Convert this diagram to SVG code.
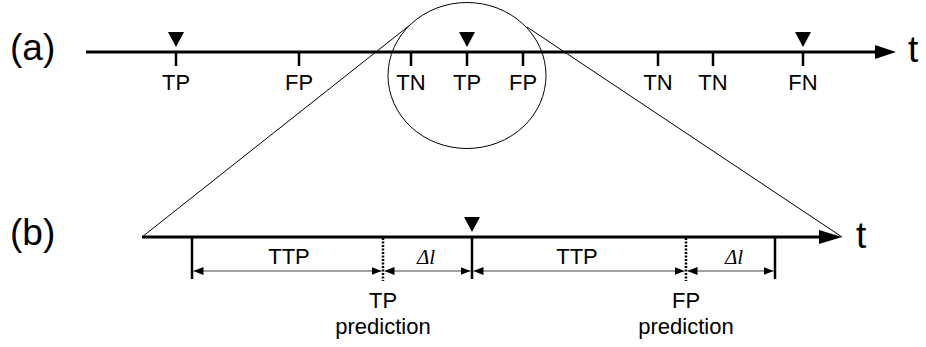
<svg xmlns="http://www.w3.org/2000/svg" width="926" height="347" viewBox="0 0 926 347">
<style>
.lbl{font-family:"Liberation Sans",Arial,sans-serif;font-size:22px;fill:#000;text-anchor:middle}
.big{font-family:"Liberation Sans",Arial,sans-serif;font-size:37px;fill:#000}
.dl{font-family:"Liberation Serif","Times New Roman",serif;font-style:italic;font-size:21px;fill:#000;text-anchor:middle}
.axis{stroke:#000;stroke-width:3;fill:none}
.tick{stroke:#000;stroke-width:2.5;fill:none}
.thin{stroke:#000;stroke-width:1;fill:none}
.dim{stroke:#808080;stroke-width:1.3;fill:none}
.dot{stroke:#000;stroke-width:2.5;stroke-dasharray:2 1.5;fill:none}
</style>
<defs>
<marker id="da" viewBox="0 0 10 8" refX="10" refY="4" markerWidth="10" markerHeight="8" markerUnits="userSpaceOnUse" orient="auto-start-reverse">
<path d="M0,0 L10,4 L0,8 Z" fill="#000"/>
</marker>
<path id="tri" d="M-8,0 L8,0 L0,15 Z" fill="#000"/>
</defs>
<text class="big" x="10" y="60">(a)</text>
<text class="big" x="10" y="245">(b)</text>
<g id="axis-a">
<line class="axis" x1="86" y1="52" x2="877" y2="52"/>
<path d="M875,45 L896,52 L875,59 Z" fill="#000"/>
<text class="big" x="908" y="62">t</text>
</g>
<g id="events-a">
<line class="tick" x1="176" y1="52" x2="176" y2="66"/><use href="#tri" x="176" y="32"/><text class="lbl" x="176" y="90">TP</text>
<line class="tick" x1="299" y1="52" x2="299" y2="66"/><text class="lbl" x="299" y="90">FP</text>
<line class="tick" x1="411" y1="52" x2="411" y2="66"/><text class="lbl" x="411" y="90">TN</text>
<line class="tick" x1="467" y1="52" x2="467" y2="66"/><use href="#tri" x="467" y="32"/><text class="lbl" x="467" y="90">TP</text>
<line class="tick" x1="523" y1="52" x2="523" y2="66"/><text class="lbl" x="523" y="90">FP</text>
<line class="tick" x1="658" y1="52" x2="658" y2="66"/><text class="lbl" x="658" y="90">TN</text>
<line class="tick" x1="713" y1="52" x2="713" y2="66"/><text class="lbl" x="713" y="90">TN</text>
<line class="tick" x1="803" y1="52" x2="803" y2="66"/><use href="#tri" x="803" y="32"/><text class="lbl" x="803" y="90">FN</text>
</g>
<g id="zoom">
<ellipse class="thin" cx="467" cy="75.5" rx="79" ry="73"/>
<line class="thin" x1="410" y1="25" x2="142" y2="237"/>
<line class="thin" x1="527" y1="27" x2="842" y2="237"/>
</g>
<g id="axis-b">
<line class="axis" x1="142" y1="237" x2="822" y2="237"/>
<path d="M819,230 L842,237 L819,244 Z" fill="#000"/>
<text class="big" x="856" y="248">t</text>
<use href="#tri" x="472" y="217"/>
</g>
<g id="intervals">
<line class="tick" x1="192" y1="237" x2="192" y2="279"/>
<line class="dot" x1="383" y1="238" x2="383" y2="281"/>
<line class="tick" x1="472" y1="237" x2="472" y2="279"/>
<line class="dot" x1="686" y1="238" x2="686" y2="281"/>
<line class="tick" x1="775" y1="237" x2="775" y2="279"/>
</g>
<g id="dimensions">
<line class="dim" x1="193.5" y1="271" x2="381.5" y2="271" marker-start="url(#da)" marker-end="url(#da)"/>
<line class="dim" x1="384.5" y1="271" x2="470.5" y2="271" marker-start="url(#da)" marker-end="url(#da)"/>
<line class="dim" x1="473.5" y1="271" x2="684.5" y2="271" marker-start="url(#da)" marker-end="url(#da)"/>
<line class="dim" x1="687.5" y1="271" x2="773.5" y2="271" marker-start="url(#da)" marker-end="url(#da)"/>
<text class="lbl" x="289" y="264">TTP</text>
<text class="dl" x="426" y="264">Δl</text>
<text class="lbl" x="577" y="264">TTP</text>
<text class="dl" x="734" y="264">Δl</text>
</g>
<g id="pred-labels">
<text class="lbl" x="383" y="308">TP</text>
<text class="lbl" x="383" y="334">prediction</text>
<text class="lbl" x="686" y="308">FP</text>
<text class="lbl" x="686" y="334">prediction</text>
</g>
</svg>
